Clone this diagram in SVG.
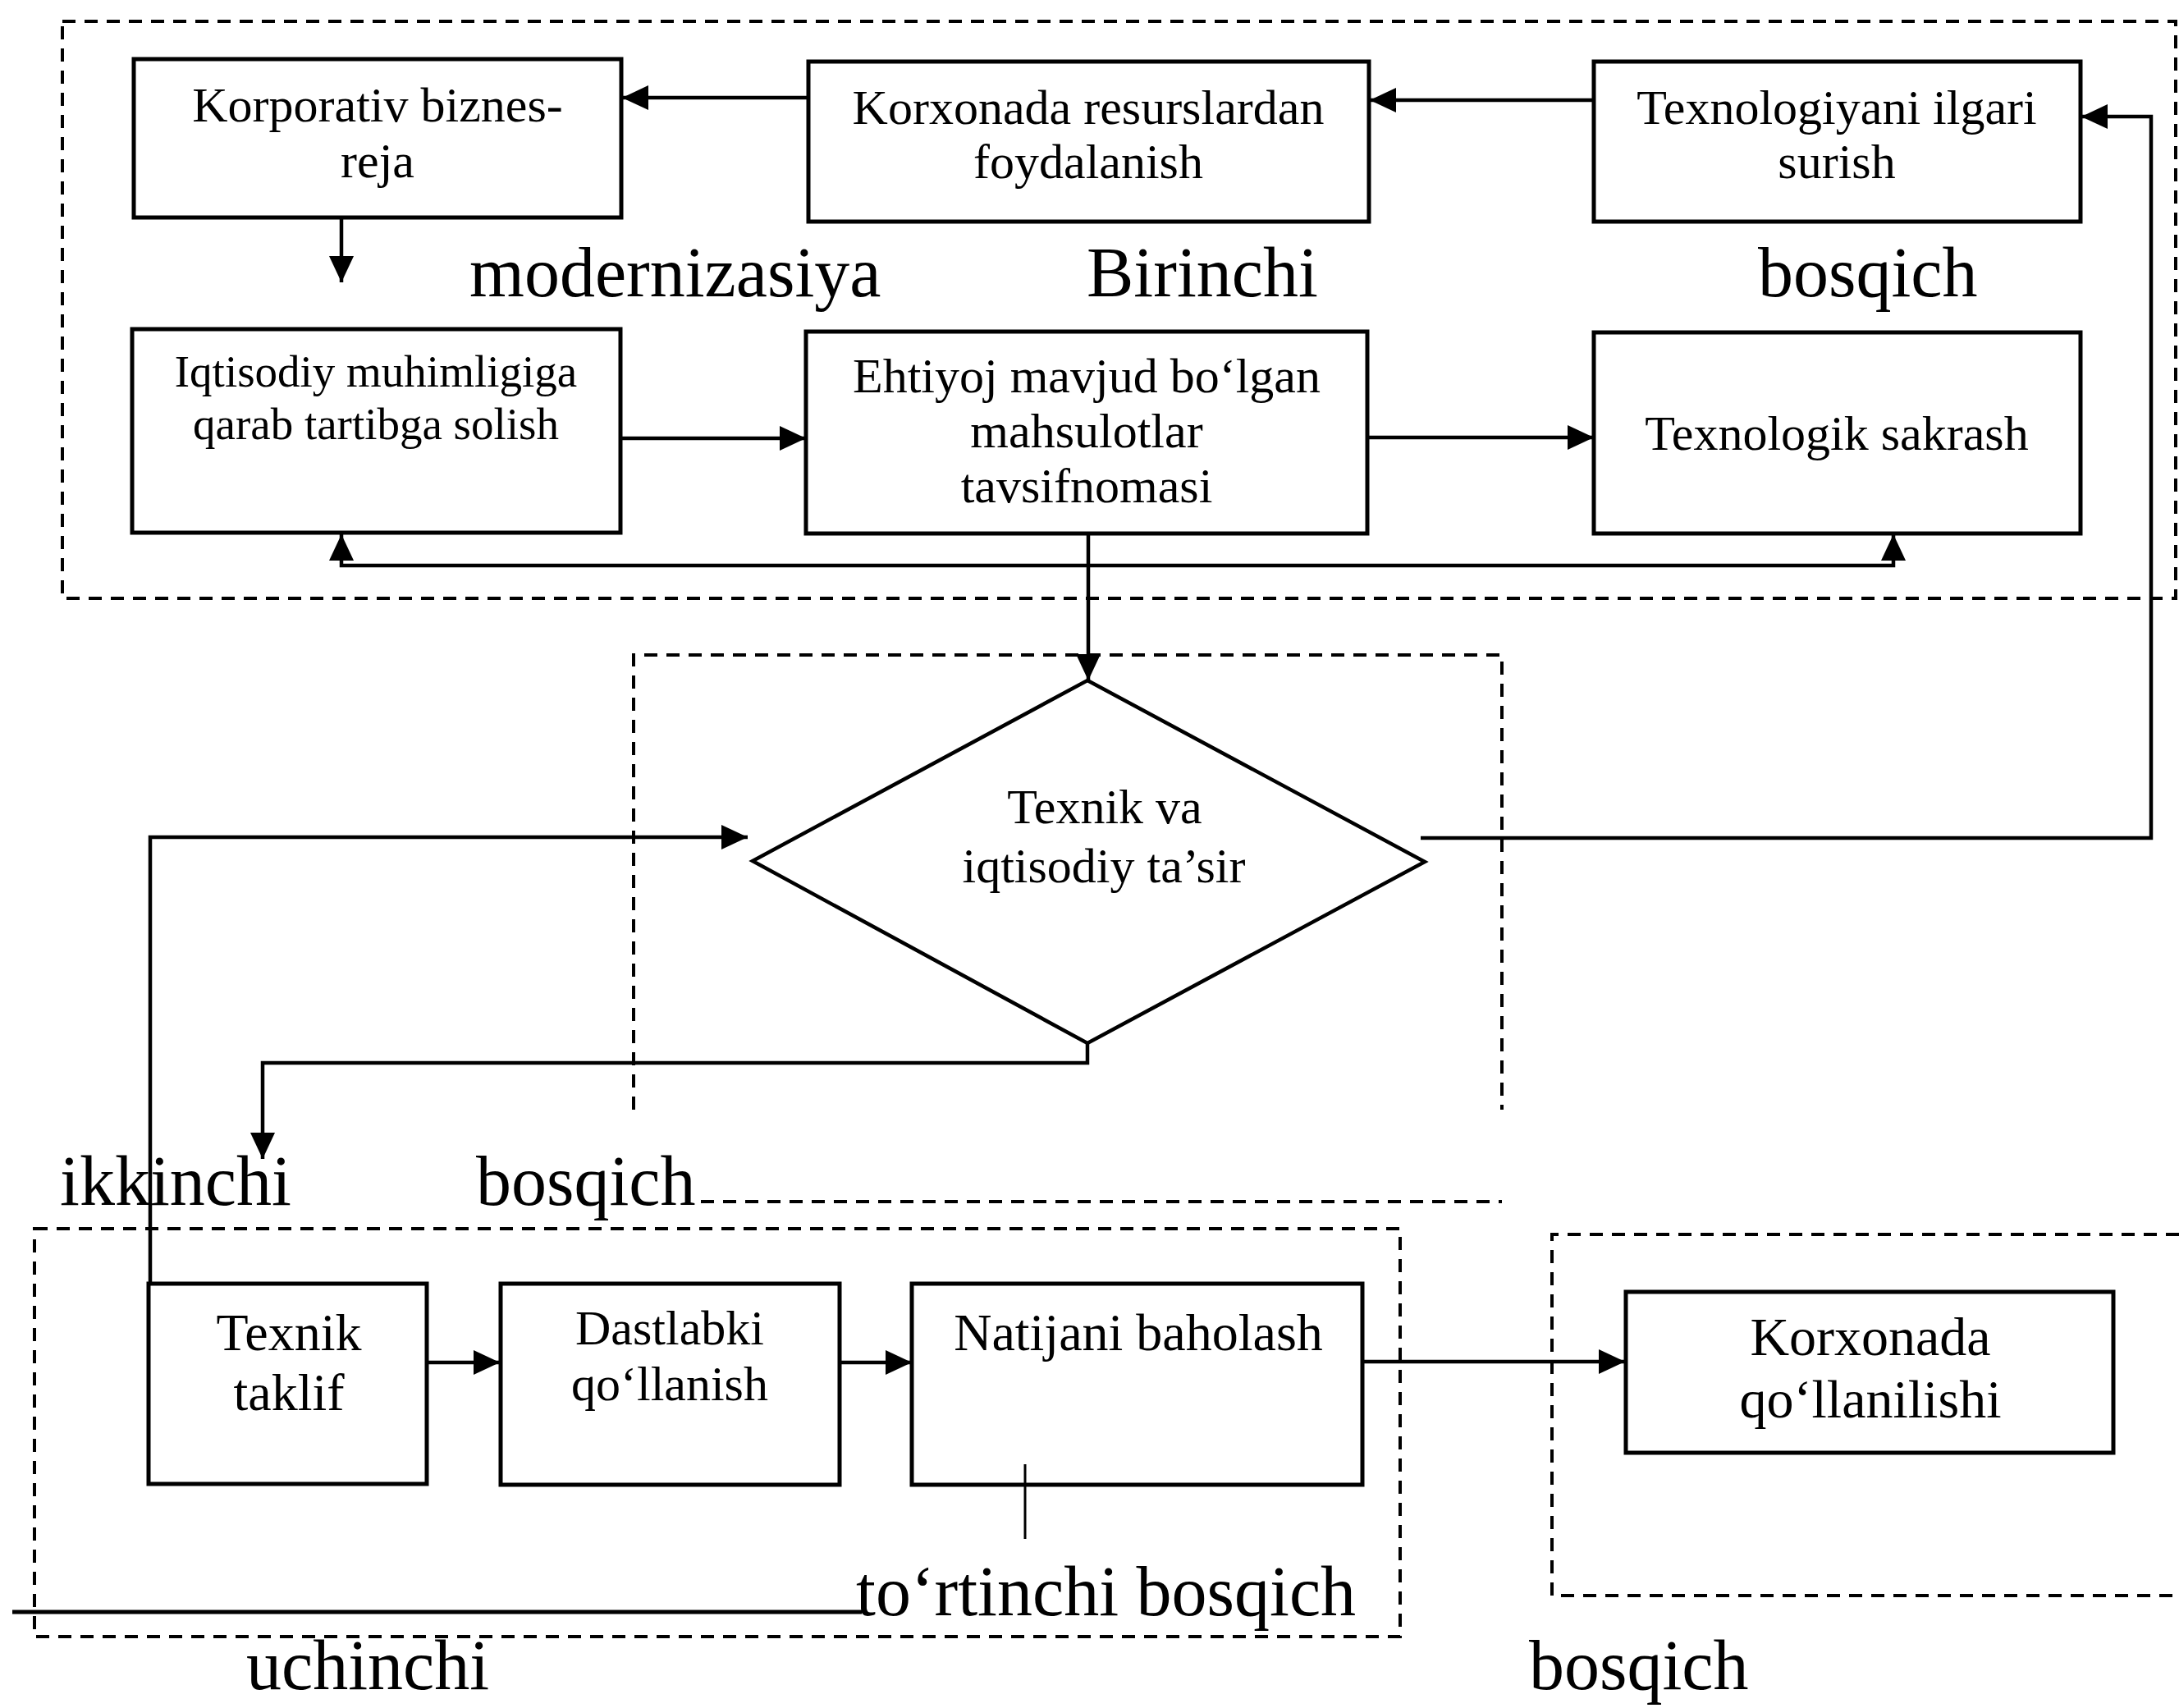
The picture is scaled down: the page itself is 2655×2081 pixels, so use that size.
<svg xmlns="http://www.w3.org/2000/svg" width="2655" height="2081" viewBox="0 0 2655 2081">
<style>
.box{fill:#fff;stroke:#000;stroke-width:5}
.dash{fill:none;stroke:#000;stroke-width:4;stroke-dasharray:16 11}
.con{fill:none;stroke:#000;stroke-width:4.5}
.t{font-family:"Liberation Serif","Times New Roman",serif;fill:#000;text-anchor:middle}
.big{font-family:"Liberation Serif","Times New Roman",serif;fill:#000;font-size:86px}
</style>
<defs>
<marker id="ah" viewBox="0 0 32 30" refX="32" refY="15" markerWidth="32" markerHeight="30" markerUnits="userSpaceOnUse" orient="auto-start-reverse">
<path d="M0,0 L32,15 L0,30 z" fill="#000"/>
</marker>
</defs>
<rect width="2655" height="2081" fill="#fff"/>

<g id="stages">
<rect class="dash" x="76" y="26" width="2575" height="703"/>
<path class="dash" d="M772,1352 V798 H1830 V1352"/>
<path class="dash" d="M854,1464 H1830"/>
<rect class="dash" x="42" y="1497" width="1664" height="497"/>
<path class="dash" d="M2655,1504 H1891 V1944 H2655"/>
</g>

<g id="labels">
<text class="big" x="572" y="361">modernizasiya</text>
<text class="big" x="1324" y="361">Birinchi</text>
<text class="big" x="2142" y="361">bosqich</text>
<text class="big" x="73" y="1468">ikkinchi</text>
<text class="big" x="580" y="1468">bosqich</text>
<text class="big" x="1043" y="1968">to‘rtinchi bosqich</text>
<text class="big" x="300" y="2058">uchinchi</text>
<text class="big" x="1863" y="2058">bosqich</text>
</g>

<g id="n1">
<rect class="box" x="163" y="72" width="594" height="193"/>
<text class="t" font-size="60" x="460" y="148">Korporativ biznes-</text>
<text class="t" font-size="60" x="460" y="216">reja</text>
</g>
<g id="n2">
<rect class="box" x="985" y="75" width="683" height="195"/>
<text class="t" font-size="60" x="1326" y="151">Korxonada resurslardan</text>
<text class="t" font-size="60" x="1326" y="217">foydalanish</text>
</g>
<g id="n3">
<rect class="box" x="1942" y="75" width="593" height="195"/>
<text class="t" font-size="60" x="2238" y="151">Texnologiyani ilgari</text>
<text class="t" font-size="60" x="2238" y="217">surish</text>
</g>
<g id="n4">
<rect class="box" x="161" y="401" width="595" height="248"/>
<text class="t" font-size="55" x="458" y="471">Iqtisodiy muhimligiga</text>
<text class="t" font-size="55" x="458" y="535">qarab tartibga solish</text>
</g>
<g id="n5">
<rect class="box" x="982" y="404" width="684" height="246"/>
<text class="t" font-size="60" x="1324" y="478">Ehtiyoj mavjud bo‘lgan</text>
<text class="t" font-size="60" x="1324" y="545">mahsulotlar</text>
<text class="t" font-size="60" x="1324" y="612">tavsifnomasi</text>
</g>
<g id="n6">
<rect class="box" x="1942" y="405" width="593" height="245"/>
<text class="t" font-size="60" x="2238" y="548">Texnologik sakrash</text>
</g>
<g id="n7">
<path class="box" style="stroke-width:4.5" d="M1325,829 L1736,1050 L1325,1271 L917,1049 Z"/>
<text class="t" font-size="60" x="1346" y="1003">Texnik va</text>
<text class="t" font-size="60" x="1345" y="1075">iqtisodiy ta’sir</text>
</g>
<g id="n8">
<rect class="box" x="181" y="1564" width="339" height="244"/>
<text class="t" font-size="64" x="352" y="1645">Texnik</text>
<text class="t" font-size="64" x="352" y="1718">taklif</text>
</g>
<g id="n9">
<rect class="box" x="610" y="1564" width="413" height="245"/>
<text class="t" font-size="60" x="816" y="1638">Dastlabki</text>
<text class="t" font-size="60" x="816" y="1706">qo‘llanish</text>
</g>
<g id="n10">
<rect class="box" x="1111" y="1564" width="549" height="245"/>
<text class="t" font-size="64" x="1387" y="1645">Natijani baholash</text>
</g>
<g id="n11">
<rect class="box" x="1981" y="1574" width="594" height="196"/>
<text class="t" font-size="66" x="2279" y="1651">Korxonada</text>
<text class="t" font-size="66" x="2279" y="1727">qo‘llanilishi</text>
</g>

<g id="connectors">
<path class="con" d="M985,119 H758" marker-end="url(#ah)"/>
<path class="con" d="M1942,122 H1669" marker-end="url(#ah)"/>
<path class="con" d="M416,266 V344" marker-end="url(#ah)"/>
<path class="con" d="M757,534 H982" marker-end="url(#ah)"/>
<path class="con" d="M1666,533 H1942" marker-end="url(#ah)"/>
<path class="con" d="M416,651 V689 H2307 V651" marker-start="url(#ah)" marker-end="url(#ah)"/>
<path class="con" d="M1326,652 V829" marker-end="url(#ah)"/>
<path class="con" d="M1325,1271 V1295 H320 V1412" marker-end="url(#ah)"/>
<path class="con" d="M183,1562 V1020 H911" marker-end="url(#ah)"/>
<path class="con" d="M1731,1021 H2621 V142 H2536" marker-end="url(#ah)"/>
<path class="con" d="M520,1660 H609" marker-end="url(#ah)"/>
<path class="con" d="M1023,1660 H1111" marker-end="url(#ah)"/>
<path class="con" d="M1660,1659 H1980" marker-end="url(#ah)"/>
<path class="con" style="stroke-width:3" d="M1249,1784 V1875"/>
<path class="con" style="stroke-width:5" d="M15,1964 H1050"/>
</g>
</svg>
